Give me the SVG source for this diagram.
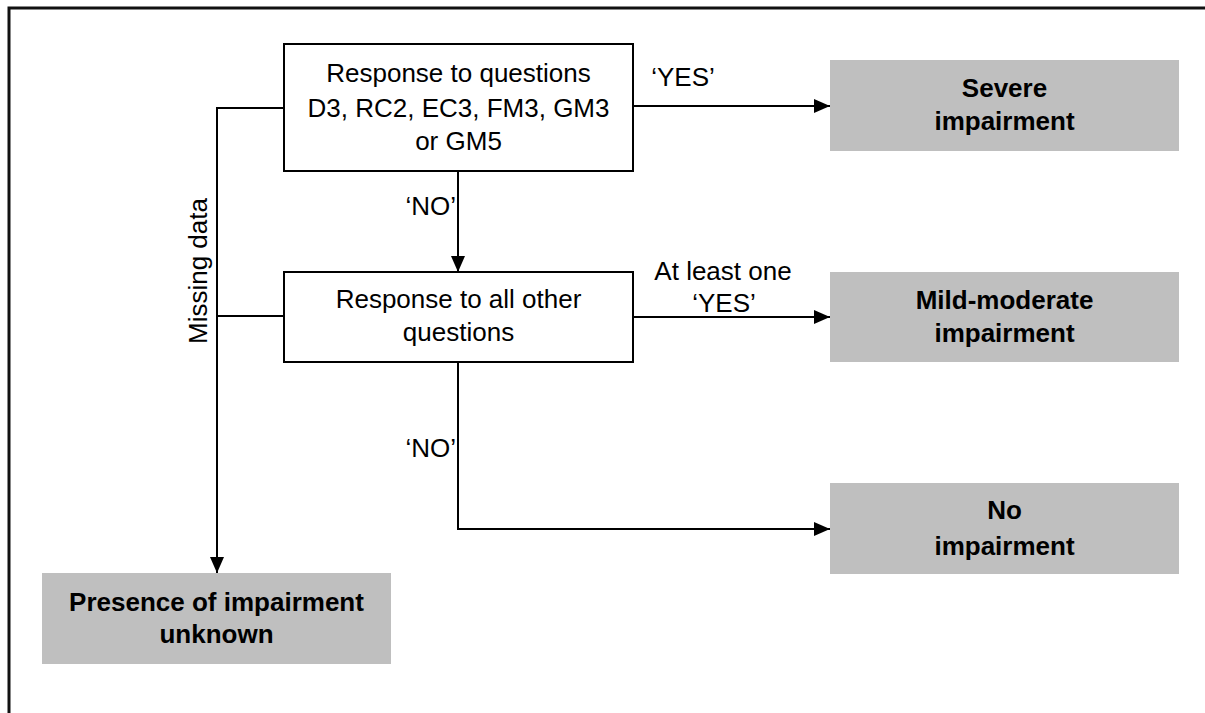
<svg xmlns="http://www.w3.org/2000/svg" width="1205" height="713" viewBox="0 0 1205 713">
<style>
text { font-family: "Liberation Sans", Arial, sans-serif; font-size: 26px; fill: #000; }
.b { font-weight: bold; }
.proc { fill: #fff; stroke: #000; stroke-width: 2; }
.out { fill: #bfbfbf; stroke: none; }
.conn { fill: none; stroke: #000; stroke-width: 2; }
</style>
<defs>
<marker id="arr" viewBox="0 0 10 10" refX="10" refY="5" markerWidth="8" markerHeight="8" markerUnits="userSpaceOnUse" orient="auto">
<path d="M0,0 L10,5 L0,10 Z" fill="#000"/>
</marker>
<marker id="ah" viewBox="0 0 16 14" refX="16" refY="7" markerWidth="16" markerHeight="14" markerUnits="userSpaceOnUse" orient="auto">
<path d="M0,0 L16,7 L0,14 Z" fill="#000"/>
</marker>
</defs>
<rect width="1205" height="713" fill="#fff"/>
<path d="M9,713 V8 H1205" fill="none" stroke="#111" stroke-width="3"/>

<g id="connectors">
<path class="conn" d="M633,106 H830" marker-end="url(#ah)"/>
<path class="conn" d="M458,171 V272" marker-end="url(#ah)"/>
<path class="conn" d="M633,317 H830" marker-end="url(#ah)"/>
<path class="conn" d="M458,362 V529 H830" marker-end="url(#ah)"/>
<path class="conn" d="M284,108 H217 V573" marker-end="url(#ah)"/>
<path class="conn" d="M217,316 H284"/>
<text x="683" y="86" text-anchor="middle">‘YES’</text>
<text x="723" y="280" text-anchor="middle">At least one</text>
<text x="724" y="312" text-anchor="middle">‘YES’</text>
<text x="456" y="215" text-anchor="end">‘NO’</text>
<text x="456" y="457" text-anchor="end">‘NO’</text>
<text transform="translate(207,271) rotate(-90)" text-anchor="middle">Missing data</text>
</g>

<g id="q1">
<rect class="proc" x="284" y="44" width="349" height="127"/>
<text x="458.5" y="82" text-anchor="middle">Response to questions</text>
<text x="458.5" y="117" text-anchor="middle">D3, RC2, EC3, FM3, GM3</text>
<text x="458.5" y="150" text-anchor="middle">or GM5</text>
</g>

<g id="q2">
<rect class="proc" x="284" y="272" width="349" height="90"/>
<text x="458.5" y="308" text-anchor="middle">Response to all other</text>
<text x="458.5" y="341" text-anchor="middle">questions</text>
</g>

<g id="severe">
<rect class="out" x="830" y="60" width="349" height="91"/>
<text class="b" x="1004.5" y="97" text-anchor="middle">Severe</text>
<text class="b" x="1004.5" y="130" text-anchor="middle">impairment</text>
</g>

<g id="mild">
<rect class="out" x="830" y="272" width="349" height="90"/>
<text class="b" x="1004.5" y="309" text-anchor="middle">Mild-moderate</text>
<text class="b" x="1004.5" y="342" text-anchor="middle">impairment</text>
</g>

<g id="none">
<rect class="out" x="830" y="483" width="349" height="91"/>
<text class="b" x="1004.5" y="519" text-anchor="middle">No</text>
<text class="b" x="1004.5" y="555" text-anchor="middle">impairment</text>
</g>

<g id="unknown">
<rect class="out" x="42" y="573" width="349" height="91"/>
<text class="b" x="216.5" y="611" text-anchor="middle">Presence of impairment</text>
<text class="b" x="216.5" y="643" text-anchor="middle">unknown</text>
</g>
</svg>
